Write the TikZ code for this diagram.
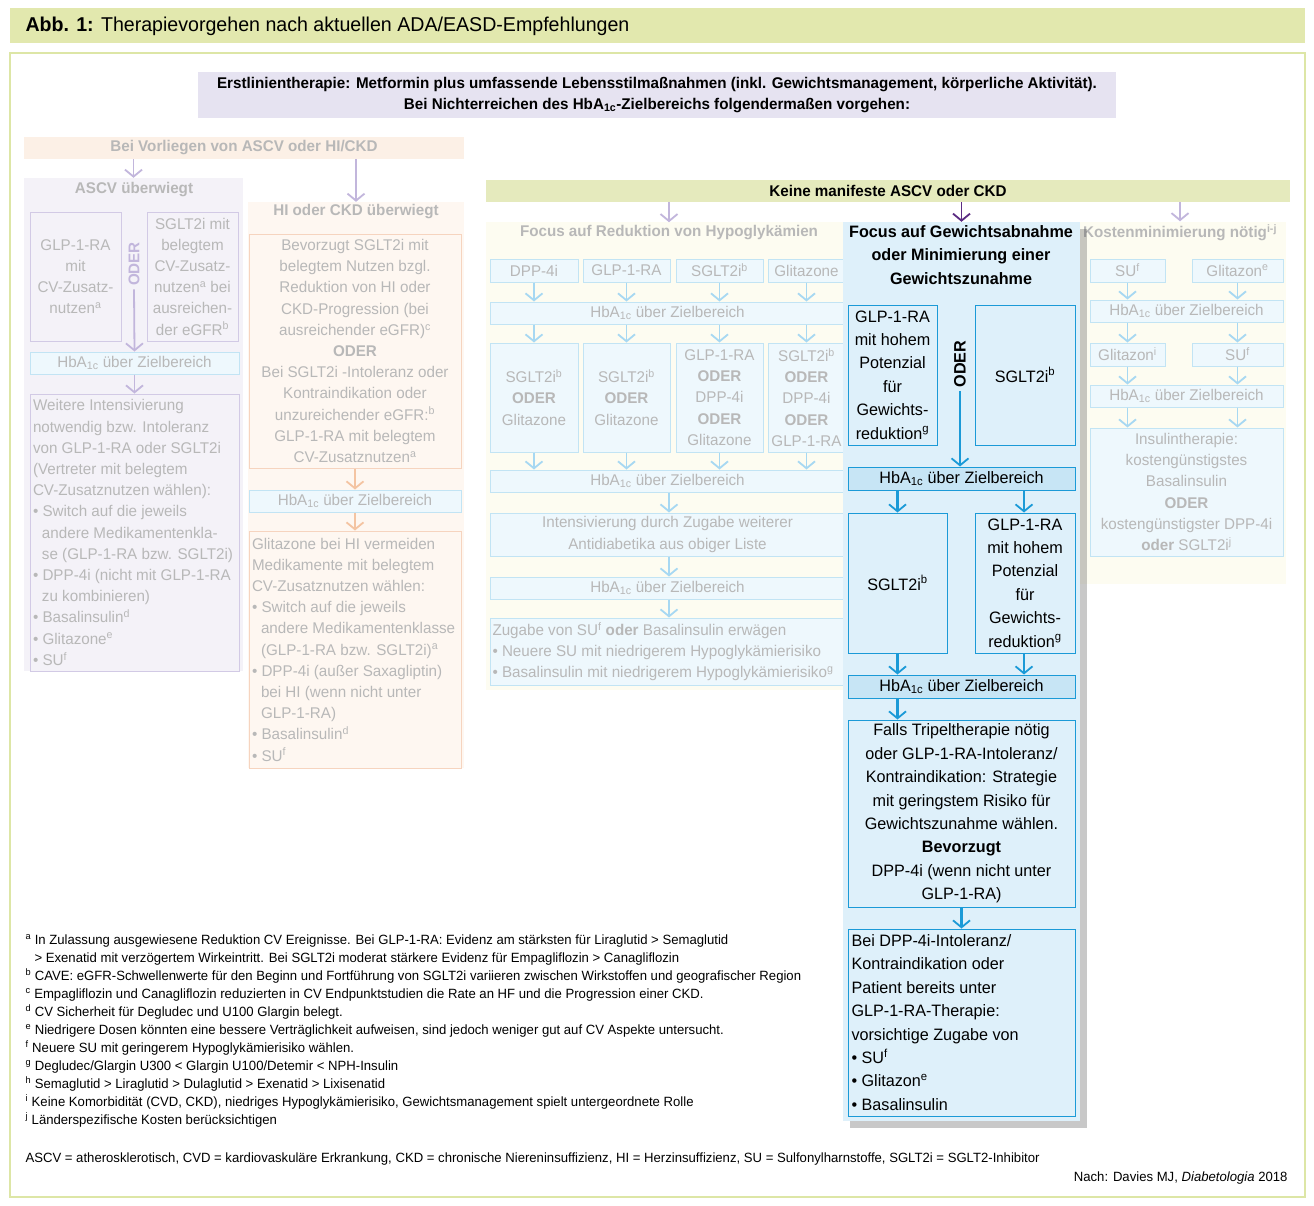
\documentclass[tikz,border=0pt]{standalone}
\usepackage{fontspec}
\setmainfont{Liberation Sans}[FakeStretch=0.98]
\usetikzlibrary{arrows.meta,shadows}
\definecolor{tbar}{HTML}{E2E8AE}
\definecolor{frm}{HTML}{DDE6A6}
\definecolor{lav}{HTML}{E6E3F1}
\definecolor{peach}{HTML}{FCF0E6}
\definecolor{fgray}{HTML}{B8B8B8}
\definecolor{purpF}{HTML}{F4F2F8}
\definecolor{purpB}{HTML}{D2CAE5}
\definecolor{purpA}{HTML}{C2B6DC}
\definecolor{blF}{HTML}{EEF8FD}
\definecolor{blB}{HTML}{C2E4F4}
\definecolor{blA}{HTML}{A7D8F2}
\definecolor{orF}{HTML}{FEF7F1}
\definecolor{orB}{HTML}{F6D4BF}
\definecolor{orA}{HTML}{F4C4A2}
\definecolor{yeF}{HTML}{FDFCF1}
\definecolor{keine}{HTML}{E5EABD}
\definecolor{hlF}{HTML}{DEF0FA}
\definecolor{hlB}{HTML}{1B9AD7}
\definecolor{hbhl}{HTML}{C7E5F5}
\definecolor{dpurp}{HTML}{5B2C83}
\newcommand\hba{HbA\textsubscript{1c}}
\newcommand\sps[1]{\textsuperscript{#1}}
\newcommand\bx[7][]{\pgfmathsetmacro\bw{#5-#3}\pgfmathsetmacro\bh{#6-#4}\pgfmathsetmacro\cx{(#3+#5)/2}\pgfmathsetmacro\cy{(#4+#6)/2}\node[inner sep=0pt,#1,minimum width=\bw pt,minimum height=\bh pt] (#2) at (\cx,\cy) {#7};}
\newcommand\ind{\hspace*{9pt}}
\begin{document}
\begin{tikzpicture}[x=1pt,y=-1pt,
  fbig/.style={font=\fontsize{16.5}{23.4}\selectfont},
  fmed/.style={font=\fontsize{15.5}{21.2}\selectfont, text=fgray},
  ftit/.style={font=\fontsize{15.5}{20}\selectfont\bfseries, text=fgray},
  fsm/.style={font=\fontsize{13.4}{18}\selectfont},
  pbox/.style={draw=purpB, line width=1pt, fmed, align=center},
  bbox/.style={draw=blB, line width=1pt, fill=blF, fmed, align=center},
  obox/.style={draw=orB, line width=1pt, fmed, align=center},
  hbox/.style={draw=hlB, line width=1pt, fbig, align=center},
  arr/.style={line width=1.8pt, -{Straight Barb[length=7pt,width=17pt,line width=1.8pt]}},
  parr/.style={arr, draw=purpA},
  barr/.style={arr, draw=blA},
  oarr/.style={arr, draw=orA},
  harr/.style={arr, draw=hlB, line width=2.2pt}]
\useasboundingbox (0,0) rectangle (1314,1205);
\fill[white] (0,0) rectangle (1314,1205);
% title
\bx[fill=tbar]{tb}{10}{8}{1305}{43}{}
\node[anchor=west, font=\fontsize{20}{22}\selectfont] (tt) at (22,26) {\textbf{Abb. 1:} Therapievorgehen nach aktuellen ADA/EASD-Empfehlungen};
\bx[draw=frm, line width=1.5pt]{fr}{10}{53}{1305}{1197}{}
% top box
\bx[fill=lav, font=\fontsize{15.5}{21}\selectfont\bfseries, align=center]{top}{198}{72}{1116}{118}{Erstlinientherapie: Metformin plus umfassende Lebensstilmaßnahmen (inkl. Gewichtsmanagement, körperliche Aktivität).\\Bei Nichterreichen des \hba-Zielbereichs folgendermaßen vorgehen:}
% left branch
\bx[fill=peach, ftit]{bv}{24}{137}{464}{159}{Bei Vorliegen von ASCV oder HI/CKD}
\bx[fill=purpF]{asc}{24}{178}{243}{671}{}
\node[ftit] (asct) at (134,190) {ASCV überwiegt};
\bx[pbox]{ag}{30}{212}{121}{341}{GLP-1-RA\\mit\\CV-Zusatz-\\nutzen\sps{a}}
\bx[pbox]{as}{147}{212}{238}{341}{SGLT2i mit\\belegtem\\CV-Zusatz-\\nutzen\sps{a} bei\\ausreichen-\\der eGFR\sps{b}}
\node[ftit, rotate=90, text=purpA] (ao) at (134,264) {ODER};
\bx[bbox]{ahb}{30}{352}{239}{374}{\hba{} über Zielbereich}
\bx[pbox, align=left, anchor=center]{aw}{30}{394}{239}{671}{\parbox{203pt}{\raggedright Weitere Intensivierung\\notwendig bzw. Intoleranz\\von GLP-1-RA oder SGLT2i\\(Vertreter mit belegtem\\CV-Zusatznutzen wählen):\\\textbullet\ Switch auf die jeweils\\\ind andere Medikamentenkla-\\\ind se (GLP-1-RA bzw. SGLT2i)\\\textbullet\ DPP-4i (nicht mit GLP-1-RA\\\ind zu kombinieren)\\\textbullet\ Basalinsulin\sps{d}\\\textbullet\ Glitazone\sps{e}\\\textbullet\ SU\sps{f}}}
\draw[parr] (bv.south -| asc.north) -- (asc.north);
\draw[parr] (ao.west) -- (ahb.north);
\draw[parr] (ahb.south) -- (aw.north);
% HI column
\bx[fill=orF]{hi}{248}{202}{464}{768}{}
\node[ftit] (hit) at (356,212) {HI oder CKD überwiegt};
\bx[obox]{h1}{249}{234}{461}{468}{Bevorzugt SGLT2i mit\\belegtem Nutzen bzgl.\\Reduktion von HI oder\\CKD-Progression (bei\\ausreichender eGFR)\sps{c}\\\textbf{ODER}\\Bei SGLT2i -Intoleranz oder\\Kontraindikation oder\\unzureichender eGFR:\sps{b}\\GLP-1-RA mit belegtem\\CV-Zusatznutzen\sps{a}}
\bx[bbox]{hhb}{249}{490}{461}{512}{\hba{} über Zielbereich}
\bx[obox]{h2}{249}{531}{461}{768}{\parbox{206pt}{\raggedright Glitazone bei HI vermeiden\\Medikamente mit belegtem\\CV-Zusatznutzen wählen:\\\textbullet\ Switch auf die jeweils\\\ind andere Medikamentenklasse\\\ind (GLP-1-RA bzw. SGLT2i)\sps{a}\\\textbullet\ DPP-4i (außer Saxagliptin)\\\ind bei HI (wenn nicht unter\\\ind GLP-1-RA)\\\textbullet\ Basalinsulin\sps{d}\\\textbullet\ SU\sps{f}}}
\draw[parr] (bv.south -| hi.north) -- (hi.north);
\draw[oarr] (h1.south) -- (hhb.north);
\draw[oarr] (hhb.south) -- (h2.north);
% Keine manifeste
\bx[fill=keine, font=\fontsize{15.5}{20}\selectfont\bfseries]{ke}{486}{180}{1290}{202}{Keine manifeste ASCV oder CKD}
% mid column
\bx[fill=yeF]{mc}{486}{222}{843}{690}{}
\node[ftit] (mct) at (669,233) {Focus auf Reduktion von Hypoglykämien};
\bx[bbox]{d1}{490}{259}{578}{282}{DPP-4i}
\bx[bbox]{d2}{583}{259}{670}{282}{GLP-1-RA}
\bx[bbox]{d3}{676}{259}{763}{282}{SGLT2i\sps{b}}
\bx[bbox]{d4}{768}{259}{845}{282}{Glitazone}
\bx[bbox]{mh1}{490}{302}{845}{324}{\hba{} über Zielbereich}
\bx[bbox]{e1}{490}{343}{578}{452}{SGLT2i\sps{b}\\\textbf{ODER}\\Glitazone}
\bx[bbox]{e2}{583}{343}{670}{452}{SGLT2i\sps{b}\\\textbf{ODER}\\Glitazone}
\bx[bbox]{e3}{676}{343}{763}{452}{GLP-1-RA\\\textbf{ODER}\\DPP-4i\\\textbf{ODER}\\Glitazone}
\bx[bbox]{e4}{768}{343}{845}{452}{SGLT2i\sps{b}\\\textbf{ODER}\\DPP-4i\\\textbf{ODER}\\GLP-1-RA}
\bx[bbox]{mh2}{490}{470}{845}{492}{\hba{} über Zielbereich}
\bx[bbox]{mi}{490}{513}{845}{556}{Intensivierung durch Zugabe weiterer\\Antidiabetika aus obiger Liste}
\bx[bbox]{mh3}{490}{577}{845}{599}{\hba{} über Zielbereich}
\bx[bbox]{mz}{490}{618}{845}{685}{\parbox{350pt}{\raggedright Zugabe von SU\sps{f} \textbf{oder} Basalinsulin erwägen\\\textbullet\ Neuere SU mit niedrigerem Hypoglykämierisiko\\\textbullet\ Basalinsulin mit niedrigerem Hypoglykämierisiko\sps{g}}}
\draw[parr] (ke.south -| mct.north) -- (mct.north);
\foreach \i in {1,2,3,4}{
 \draw[barr] (d\i.south) -- (d\i.south |- mh1.north);
 \draw[barr] (e\i.north |- mh1.south) -- (e\i.north);
 \draw[barr] (e\i.south) -- (e\i.south |- mh2.north);}
\draw[barr] (mh2.south -| mct.south) -- (mi.north -| mct.south);
\draw[barr] (mi.south -| mct.south) -- (mh3.north -| mct.south);
\draw[barr] (mh3.south -| mct.south) -- (mz.north -| mct.south);
% right column
\bx[fill=yeF]{rc}{1080}{222}{1286}{584}{}
\node[ftit] (rct) at (1180,233) {Kostenminimierung nötig\sps{i-j}};
\bx[bbox]{r1}{1090}{259}{1165}{282}{SU\sps{f}}
\bx[bbox]{r2}{1192}{259}{1283}{282}{Glitazon\sps{e}}
\bx[bbox]{rh1}{1090}{300}{1283}{322}{\hba{} über Zielbereich}
\bx[bbox]{r3}{1090}{343}{1165}{366}{Glitazon\sps{i}}
\bx[bbox]{r4}{1192}{343}{1283}{366}{SU\sps{f}}
\bx[bbox]{rh2}{1090}{385}{1283}{407}{\hba{} über Zielbereich}
\bx[bbox]{ri}{1090}{428}{1283}{556}{Insulintherapie:\\kostengünstigstes\\Basalinsulin\\\textbf{ODER}\\kostengünstigster DPP-4i\\\textbf{oder} SGLT2i\sps{j}}
\draw[parr] (ke.south -| rct.north) -- (rct.north);
\draw[barr] (r1.south) -- (r1.south |- rh1.north);
\draw[barr] (r2.south) -- (r2.south |- rh1.north);
\draw[barr] (r3.north |- rh1.south) -- (r3.north);
\draw[barr] (r4.north |- rh1.south) -- (r4.north);
\draw[barr] (r3.south) -- (r3.south |- rh2.north);
\draw[barr] (r4.south) -- (r4.south |- rh2.north);
\draw[barr] (r3.south |- rh2.south) -- (r3.south |- ri.north);
\draw[barr] (r4.south |- rh2.south) -- (r4.south |- ri.north);
% highlight column
\bx[fill=hlF, drop shadow={opacity=0.3, shadow xshift=7pt, shadow yshift=-7pt, fill=black!70}]{hl}{843}{222}{1080}{1121}{}
\node[font=\fontsize{16.5}{23.4}\selectfont\bfseries, align=center, anchor=north] (hlt) at (961,222) {Focus auf Gewichtsabnahme\\oder Minimierung einer\\Gewichtszunahme};
\bx[hbox]{g1}{848}{305}{937}{445}{GLP-1-RA\\mit hohem\\Potenzial\\für\\Gewichts-\\reduktion\sps{g}}
\bx[hbox]{g2}{975}{305}{1075}{445}{SGLT2i\sps{b}}
\node[rotate=90, font=\fontsize{16.5}{20}\selectfont\bfseries] (go) at (960,364) {ODER};
\bx[hbox, fill=hbhl]{ghb1}{848}{467}{1075}{490}{\hba{} über Zielbereich}
\bx[hbox]{g3}{848}{513}{947}{653}{SGLT2i\sps{b}}
\bx[hbox]{g4}{975}{513}{1075}{653}{GLP-1-RA\\mit hohem\\Potenzial\\für\\Gewichts-\\reduktion\sps{g}}
\bx[hbox, fill=hbhl]{ghb2}{848}{675}{1075}{698}{\hba{} über Zielbereich}
\bx[hbox]{gf}{848}{720}{1075}{907}{Falls Tripeltherapie nötig\\oder GLP-1-RA-Intoleranz/\\Kontraindikation: Strategie\\mit geringstem Risiko für\\Gewichtszunahme wählen.\\\textbf{Bevorzugt}\\DPP-4i (wenn nicht unter\\GLP-1-RA)}
\bx[hbox]{gd}{848}{929}{1075}{1116}{\parbox{220pt}{\raggedright Bei DPP-4i-Intoleranz/\\Kontraindikation oder\\Patient bereits unter\\GLP-1-RA-Therapie:\\vorsichtige Zugabe von\\\textbullet\ SU\sps{f}\\\textbullet\ Glitazon\sps{e}\\\textbullet\ Basalinsulin}}
\draw[arr, draw=dpurp] (ke.south -| hl.north) -- (hl.north);
\draw[harr] (go.west) -- (ghb1.north -| go.west);
\draw[harr] (ghb1.south -| g3.north) -- (g3.north);
\draw[harr] (ghb1.south -| 1024,0) -- (g4.north -| 1024,0);
\draw[harr] (g3.south) -- (ghb2.north -| g3.south);
\draw[harr] (g4.south -| 1024,0) -- (ghb2.north -| 1024,0);
\draw[harr] (ghb2.south -| g3.south) -- (gf.north -| g3.south);
\draw[harr] (gf.south) -- (gd.north);
% footnotes
\node[fsm, anchor=north west, align=left] (fn) at (22,931) {\sps{a} In Zulassung ausgewiesene Reduktion CV Ereignisse. Bei GLP-1-RA: Evidenz am stärksten für Liraglutid > Semaglutid\\\ind> Exenatid mit verzögertem Wirkeintritt. Bei SGLT2i moderat stärkere Evidenz für Empagliflozin > Canagliflozin\\\sps{b} CAVE: eGFR-Schwellenwerte für den Beginn und Fortführung von SGLT2i variieren zwischen Wirkstoffen und geografischer Region\\\sps{c} Empagliflozin und Canagliflozin reduzierten in CV Endpunktstudien die Rate an HF und die Progression einer CKD.\\\sps{d} CV Sicherheit für Degludec und U100 Glargin belegt.\\\sps{e} Niedrigere Dosen könnten eine bessere Verträglichkeit aufweisen, sind jedoch weniger gut auf CV Aspekte untersucht.\\\sps{f} Neuere SU mit geringerem Hypoglykämierisiko wählen.\\\sps{g} Degludec/Glargin U300 < Glargin U100/Detemir < NPH-Insulin\\\sps{h} Semaglutid > Liraglutid > Dulaglutid > Exenatid > Lixisenatid\\\sps{i} Keine Komorbidität (CVD, CKD), niedriges Hypoglykämierisiko, Gewichtsmanagement spielt untergeordnete Rolle\\\sps{j} Länderspezifische Kosten berücksichtigen};
\node[fsm, anchor=west] (ab) at (22,1159) {ASCV = atherosklerotisch, CVD = kardiovaskuläre Erkrankung, CKD = chronische Niereninsuffizienz, HI = Herzinsuffizienz, SU = Sulfonylharnstoffe, SGLT2i = SGLT2-Inhibitor};
\node[fsm, anchor=east] (na) at (1291,1178) {Nach: Davies MJ, \textit{Diabetologia} 2018};
\end{tikzpicture}
\end{document}
